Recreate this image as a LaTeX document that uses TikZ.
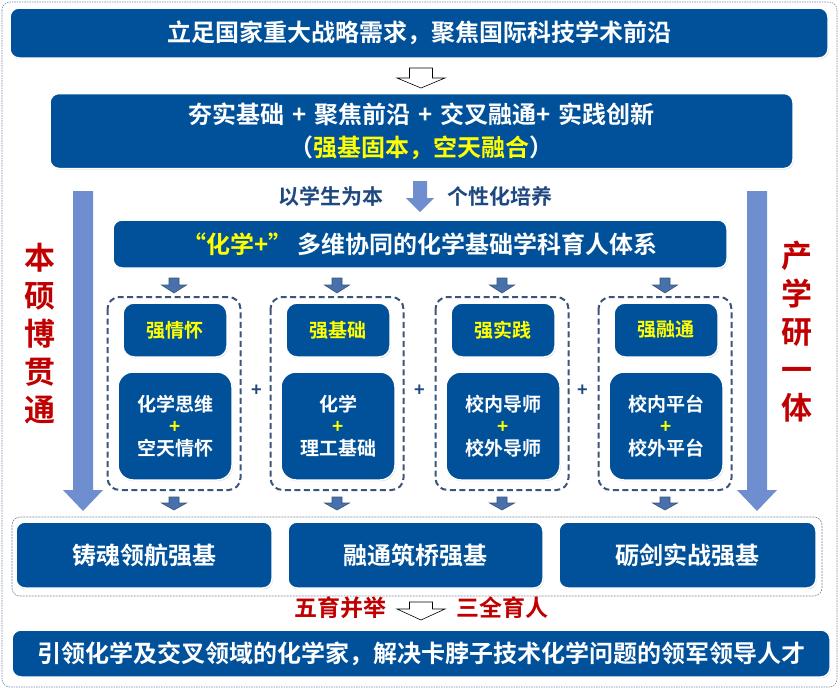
\documentclass[tikz,border=0pt]{standalone}
\usepackage{fontspec}
\setmainfont{Noto Sans CJK SC}[BoldFont={Noto Sans CJK SC Bold}]
\usetikzlibrary{shadows}
\definecolor{boxblue}{RGB}{1,81,154}
\definecolor{arrowblue}{RGB}{110,142,208}
\definecolor{smallblue}{RGB}{72,112,172}
\definecolor{dashblue}{RGB}{58,85,122}
\definecolor{labelblue}{RGB}{31,72,128}
\definecolor{deepred}{RGB}{192,0,0}
\definecolor{hiyellow}{RGB}{255,255,0}

% block arrow pointing down: x, top, half shaft, half head, head start, tip
\newcommand{\blockdown}[6]{(#1-#3,#2) -- (#1+#3,#2) -- (#1+#3,#5) -- (#1+#4,#5) -- (#1,#6) -- (#1-#4,#5) -- (#1-#3,#5) -- cycle}
\newcommand{\cjksize}[1]{\fontsize{#1}{#1}\selectfont\bfseries}
\newcommand{\gap}{\hspace{8pt}}

\tikzset{
  bluebox/.style={fill=boxblue, draw=white, line width=1.5pt, rounded corners=9pt,
    text=white, font=\cjksize{24}, align=center, inner sep=0pt,
    drop shadow={shadow xshift=0.8pt, shadow yshift=-1.2pt, opacity=0.3}},
  groupline/.style={draw=dashblue, line width=2pt, dash pattern=on 6pt off 3.5pt, rounded corners=12pt},
  hollow/.style={fill=white, draw=black, line width=0.6pt},
  bigarrow/.style={fill=arrowblue, draw=none},
  tinyarrow/.style={fill=smallblue, draw=dashblue, line width=0.6pt},
}

\begin{document}
\begin{tikzpicture}[x=1pt, y=-1pt]
    \useasboundingbox (0,0) rectangle (840,689);
    % outer frame
    \draw[draw=dashblue!70, line width=0.6pt, dash pattern=on 1.5pt off 1pt, rounded corners=8pt] (2,2) rectangle (837,687);

    % national goal
    \node[bluebox, minimum width=818, minimum height=50] (goal) at (419,33) {立足国家重大战略需求，聚焦国际科技学术前沿};
    \filldraw[hollow] \blockdown{421}{68}{11.5}{24}{78}{88};

    % idea
    \node[bluebox, minimum width=743, minimum height=75, font=\fontsize{24}{33}\selectfont\bfseries] (idea) at (421.5,131)
        {夯实基础\gap{}+\gap{}聚焦前沿\gap{}+\gap{}交叉融通+\gap{}实践创新\\（\textcolor{hiyellow}{强基固本，空天融合}）};

    % student centred
    \node[text=labelblue, font=\cjksize{21}] (student) at (331,196) {以学生为本};
    \node[text=labelblue, font=\cjksize{21}] (person) at (500,196) {个性化培养};
    \filldraw[bigarrow] \blockdown{420}{181}{7}{14}{198}{212};

    % system
    \node[bluebox, minimum width=614, minimum height=48] (system) at (420,244)
        {\textcolor{hiyellow}{“化学+”} 多维协同的化学基础学科育人体系};

    % side arrows
    \filldraw[bigarrow] \blockdown{83}{191}{10}{20}{490}{511};
    \filldraw[bigarrow] \blockdown{757}{191}{10}{20}{490}{511};
    \node[text=deepred, font=\fontsize{31}{38}\selectfont\bfseries, align=center] (left) at (40,334) {本\\硕\\博\\贯\\通};
    \node[text=deepred, font=\fontsize{31}{38}\selectfont\bfseries, align=center] (right) at (797,332) {产\\学\\研\\一\\体};

    % four strengths
    \foreach \cx/\hd/\la/\lb/\n in {174/强情怀/化学思维/空天情怀/a, 337/强基础/化学/理工基础/b,
                                   502/强实践/校内导师/校外导师/c, 665/强融通/校内平台/校外平台/d} {
        \filldraw[tinyarrow] \blockdown{\cx}{278}{5}{12.5}{285}{293};
        \draw[groupline] (\cx-66.5,297) rectangle (\cx+66.5,490);
        \node[bluebox, rounded corners=11pt, minimum width=104, minimum height=54, text=hiyellow, font=\cjksize{19}] (h\n) at (\cx+1,330) {\hd};
        \node[bluebox, rounded corners=15pt, minimum width=114, minimum height=108, font=\fontsize{19}{22}\selectfont\bfseries] (c\n) at (\cx+1,426)
            {\la\\\textcolor{hiyellow}{+}\\\lb};
        \filldraw[tinyarrow] \blockdown{\cx}{497}{5}{12.5}{503}{510};
    }
    \foreach \px in {257,420,583}
        \node[text=labelblue, font=\cjksize{18}] (plus\px) at (\px,391) {+};

    % outcomes
    \draw[draw=dashblue!70, line width=0.6pt, dash pattern=on 2pt off 1pt, rounded corners=8pt] (12,517) rectangle (822,596);
    \node[bluebox, minimum width=256, minimum height=66] (soul) at (144,555) {铸魂领航强基};
    \node[bluebox, minimum width=255, minimum height=66] (bridge) at (415.5,555) {融通筑桥强基};
    \node[bluebox, minimum width=257, minimum height=66] (sword) at (687.5,555) {砺剑实战强基};

    \node[text=deepred, font=\cjksize{23}] (five) at (340,608) {五育并举};
    \node[text=deepred, font=\cjksize{23}] (three) at (502,608) {三全育人};
    \filldraw[hollow] \blockdown{421}{602}{11.5}{24}{609}{620};

    % talent
    \node[bluebox, minimum width=818, minimum height=47] (talent) at (421,653.5)
        {引领化学及交叉领域的化学家，解决卡脖子技术化学问题的领军领导人才};
\end{tikzpicture}
\end{document}
